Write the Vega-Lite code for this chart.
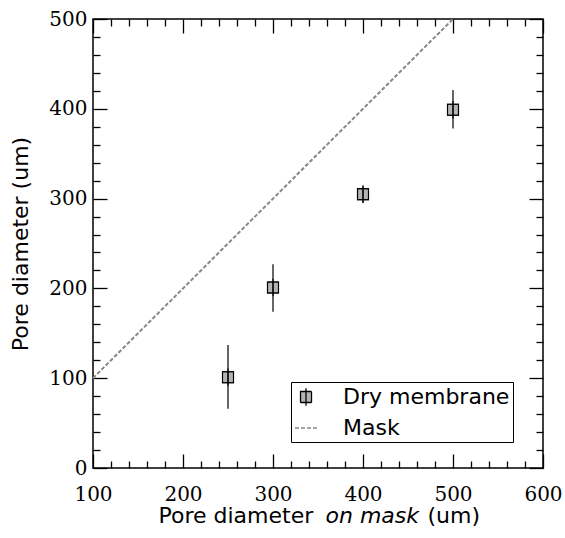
{
  "$schema": "https://vega.github.io/schema/vega-lite/v6.json",
  "width": 450,
  "height": 449,
  "autosize": {"type": "none"},
  "padding": {"left": 93, "top": 19, "right": 22, "bottom": 70},
  "background": "white",
  "datasets": {
    "pts": [
      {"x": 250, "y": 101, "lo": 66, "hi": 137, "series": "Dry membrane"},
      {"x": 300, "y": 201, "lo": 174, "hi": 227, "series": "Dry membrane"},
      {"x": 400, "y": 305, "lo": 295, "hi": 314, "series": "Dry membrane"},
      {"x": 500, "y": 399, "lo": 378, "hi": 421, "series": "Dry membrane"}
    ],
    "mask": [
      {"x": 100, "y": 100, "series": "Mask"},
      {"x": 500, "y": 500, "series": "Mask"}
    ]
  },
  "config": {
    "view": {"stroke": "black", "strokeWidth": 1.5},
    "axis": {
      "grid": false,
      "domain": false,
      "tickColor": "black",
      "tickWidth": 1.3,
      "labelColor": "black",
      "labelFont": "DejaVu Serif",
      "labelFontSize": 20,
      "labelFlush": false,
      "labelOverlap": false,
      "titleColor": "black",
      "titleFont": "DejaVu Sans",
      "titleFontSize": 22,
      "titleFontWeight": "normal"
    },
    "legend": {
      "labelFont": "DejaVu Sans",
      "labelFontSize": 22,
      "labelColor": "black",
      "labelLimit": 0,
      "symbolOpacity": 1,
      "symbolStrokeWidth": 1.3
    }
  },
  "resolve": {"axis": {"x": "independent", "y": "independent"}},
  "layer": [
    {
      "data": {"name": "mask"},
      "mark": {"type": "line", "stroke": "#888888", "strokeWidth": 2},
      "encoding": {
        "x": {
          "field": "x", "type": "quantitative",
          "scale": {"domain": [100, 600], "nice": false, "zero": false},
          "axis": {
            "orient": "bottom",
            "values": [100, 200, 300, 400, 500, 600],
            "tickSize": -14,
            "labelPadding": 30,
            "title": "Pore diameter",
            "titleAlign": "left",
            "titleBaseline": "alphabetic",
            "titleAnchor": "start",
            "titleX": 65,
            "titleY": 54
          }
        },
        "y": {
          "field": "y", "type": "quantitative",
          "scale": {"domain": [0, 500], "nice": false, "zero": false},
          "axis": {
            "orient": "left",
            "values": [0, 100, 200, 300, 400, 500],
            "tickSize": -14,
            "labelPadding": 20,
            "title": "Pore diameter (um)",
            "titleAngle": -90,
            "titleAlign": "center",
            "titleBaseline": "alphabetic",
            "titleX": -66,
            "titleY": 224.5
          }
        },
        "strokeDash": {
          "field": "series", "type": "nominal",
          "scale": {"domain": ["Dry membrane", "Mask"], "range": [[1, 0], [4, 2]]},
          "legend": {
            "title": null,
            "orient": "none",
            "legendX": 198,
            "legendY": 363,
            "strokeColor": "black",
            "fillColor": "white",
            "padding": 3,
            "symbolSize": 484,
            "labelOffset": 25,
            "rowPadding": 7
          }
        }
      }
    },
    {
      "data": {"name": "pts"},
      "mark": {"type": "point", "filled": true, "size": 484, "strokeWidth": 1.1, "opacity": 1},
      "encoding": {
        "x": {
          "field": "x", "type": "quantitative",
          "axis": {
            "orient": "bottom",
            "values": [120, 140, 160, 180, 220, 240, 260, 280, 320, 340, 360, 380, 420, 440, 460, 480, 520, 540, 560, 580],
            "tickSize": -7,
            "labels": false,
            "title": "on mask",
            "titleFontStyle": "italic",
            "titleAlign": "left",
            "titleBaseline": "alphabetic",
            "titleX": 232,
            "titleY": 54
          }
        },
        "y": {
          "field": "y", "type": "quantitative",
          "axis": {
            "orient": "left",
            "values": [20, 40, 60, 80, 120, 140, 160, 180, 220, 240, 260, 280, 320, 340, 360, 380, 420, 440, 460, 480],
            "tickSize": -7,
            "labels": false,
            "title": null
          }
        },
        "shape": {
          "field": "series", "type": "nominal",
          "scale": {"domain": ["Dry membrane", "Mask"], "range": ["M-0.5,-0.5H0.5V0.5H-0.5Z M0,-0.8V0.8", "M-1,0H1"]},
          "legend": {
            "title": null,
            "orient": "none",
            "legendX": 198,
            "legendY": 363,
            "strokeColor": "black",
            "fillColor": "white",
            "padding": 3,
            "symbolSize": 484,
            "labelOffset": 25,
            "rowPadding": 7
          }
        },
        "fill": {
          "field": "series", "type": "nominal",
          "scale": {"domain": ["Dry membrane", "Mask"], "range": ["#b4b4b4", "transparent"]},
          "legend": {"title": null}
        },
        "stroke": {
          "field": "series", "type": "nominal",
          "scale": {"domain": ["Dry membrane", "Mask"], "range": ["#000000", "#888888"]},
          "legend": {"title": null}
        }
      }
    },
    {
      "data": {"name": "pts"},
      "mark": {"type": "rule", "color": "black", "strokeWidth": 1.2},
      "encoding": {
        "x": {
          "field": "x", "type": "quantitative",
          "axis": {
            "orient": "top",
            "values": [100, 200, 300, 400, 500, 600],
            "tickSize": -14,
            "labels": false,
            "title": "(um)",
            "titleAlign": "left",
            "titleBaseline": "alphabetic",
            "titleX": 334,
            "titleY": 503
          }
        },
        "y": {
          "field": "lo", "type": "quantitative",
          "axis": {
            "orient": "right",
            "values": [0, 100, 200, 300, 400, 500],
            "tickSize": -14,
            "labels": false,
            "title": null
          }
        },
        "y2": {"field": "hi"}
      }
    },
    {
      "data": {"name": "pts"},
      "mark": {"type": "square", "size": 121, "filled": false, "stroke": "black", "strokeWidth": 1.1, "opacity": 1},
      "encoding": {
        "x": {
          "field": "x", "type": "quantitative",
          "axis": {
            "orient": "top",
            "values": [120, 140, 160, 180, 220, 240, 260, 280, 320, 340, 360, 380, 420, 440, 460, 480, 520, 540, 560, 580],
            "tickSize": -7,
            "labels": false,
            "title": null
          }
        },
        "y": {
          "field": "y", "type": "quantitative",
          "axis": {
            "orient": "right",
            "values": [20, 40, 60, 80, 120, 140, 160, 180, 220, 240, 260, 280, 320, 340, 360, 380, 420, 440, 460, 480],
            "tickSize": -7,
            "labels": false,
            "title": null
          }
        }
      }
    }
  ]
}
